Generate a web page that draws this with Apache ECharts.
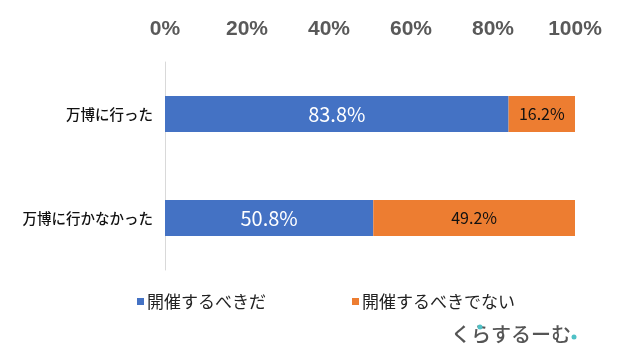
<!DOCTYPE html>
<html><head><meta charset="utf-8">
<script src="https://cdn.jsdelivr.net/npm/echarts@6/dist/echarts.min.js"></script>
<style>html,body{margin:0;padding:0;background:#fff}#c{width:617px;height:358px}</style>
</head><body><div id="c"></div>
<script>
const categories = ['万博に行った', '万博に行かなかった'];
const seriesNames = ['開催するべきだ', '開催するべきでない'];
const shouldHold = [83.8, 50.8];
const shouldNotHold = [16.2, 49.2];
const tickLabels = ['0%', '20%', '40%', '60%', '80%', '100%'];

const jp = '"Noto Sans CJK JP", "Noto Sans", sans-serif';
const chart = echarts.init(document.getElementById('c'));
chart.setOption({
  animation: false,
  backgroundColor: '#fff',
  grid: {left: 165, right: 42, top: 62, bottom: 88},
  legend: {
    data: seriesNames,
    left: 132, top: 288,
    itemWidth: 7, itemHeight: 7, itemGap: 86,
    icon: 'rect',
    textStyle: {fontFamily: jp, fontSize: 17, color: '#222', padding: [0,0,0,-2]}
  },
  xAxis: {
    type: 'value', position: 'top', min: 0, max: 100, interval: 20,
    axisLine: {show: false}, axisTick: {show: false}, splitLine: {show: false},
    axisLabel: {
      formatter: v => tickLabels[v / 20],
      fontFamily: '"Liberation Sans", Arial, sans-serif', fontWeight: 'bold',
      fontSize: 21, color: '#595959', margin: 22
    }
  },
  yAxis: {
    type: 'category', data: categories, inverse: true,
    axisLine: {show: true, lineStyle: {color: '#D9D9D9', width: 1}},
    axisTick: {show: false},
    axisLabel: {fontFamily: jp, fontSize: 14.5, fontWeight: 500, color: '#111', margin: 12}
  },
  series: [
    {name: seriesNames[0], type: 'bar', stack: 'a', data: shouldHold, barWidth: 36,
     itemStyle: {color: '#4472C4'},
     label: {show: true, position: 'inside', formatter: p => p.value.toFixed(1) + '%',
       color: '#fff', fontFamily: jp, fontSize: 20}},
    {name: seriesNames[1], type: 'bar', stack: 'a', data: shouldNotHold, barWidth: 36,
     itemStyle: {color: '#ED7D31'},
     label: {show: true, position: 'inside', formatter: p => p.value.toFixed(1) + '%',
       color: '#111', fontFamily: jp, fontSize: 16}}
  ],
  graphic: [
    {type: 'text', left: 451, top: 324,
     style: {text: 'くらするーむ', fontFamily: jp, fontSize: 20, fontWeight: 500, fill: '#555'}},
    {type: 'circle', shape: {cx: 480, cy: 327, r: 2.5}, style: {fill: '#4FC1C6'}},
    {type: 'circle', shape: {cx: 574, cy: 337, r: 2.5}, style: {fill: '#4FC1C6'}}
  ]
});
</script></body></html>
